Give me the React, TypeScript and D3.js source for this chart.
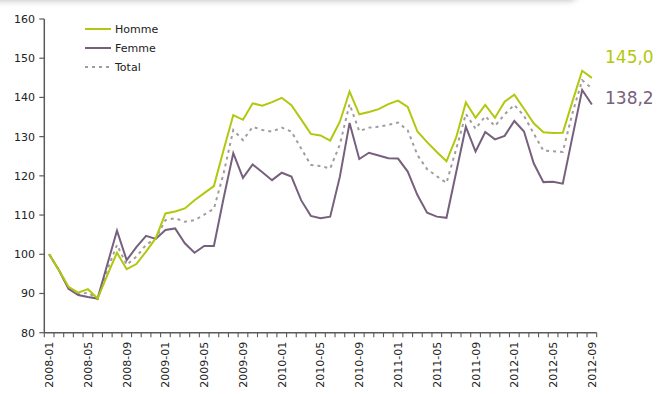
import React from "react";
import * as d3 from "d3";

// Monthly index (2008-01 = 100)
const months: string[] = [];
for (let y = 2008; y <= 2012; y++) {
  for (let m = 1; m <= 12; m++) {
    if (y === 2012 && m > 9) break;
    months.push(`${y}-${String(m).padStart(2, "0")}`);
  }
}

const homme = [
  100, 96.0, 91.7, 90.2, 91.1, 88.7, 94.7, 100.4, 96.2, 97.5, 100.7, 104.1,
  110.4, 110.9, 111.7, 113.8, 115.6, 117.4, 126.6, 135.5, 134.3, 138.5, 137.9, 138.8,
  139.9, 138.0, 134.4, 130.7, 130.3, 129.0, 133.8, 141.5, 135.7, 136.3, 137.0, 138.3,
  139.2, 137.6, 131.3, 128.6, 126.1, 123.7, 129.8, 138.7, 134.8, 138.1, 134.8, 138.9,
  140.7, 137.1, 133.4, 131.1, 130.9, 131.0, 139.0, 146.8, 145.0,
];

const femme = [
  100, 96.0, 91.2, 89.6, 89.1, 88.7, 97.4, 106.0, 98.5, 101.8, 104.7, 103.9,
  106.2, 106.6, 102.8, 100.4, 102.1, 102.1, 114.3, 125.8, 119.5, 122.9, 120.9, 118.9,
  120.8, 119.8, 113.8, 109.8, 109.2, 109.6, 119.8, 133.5, 124.3, 125.9, 125.2, 124.5,
  124.4, 121.1, 115.1, 110.6, 109.6, 109.3, 120.9, 132.5, 126.2, 131.2, 129.3, 130.2,
  134.0, 131.3, 123.2, 118.4, 118.5, 118.0, 130.0, 141.9, 138.2,
];

const total = [
  100, 96.0, 91.5, 89.8, 90.2, 88.6, 96.0, 102.4, 97.3, 99.4, 102.4, 104.1,
  108.7, 109.2, 108.3, 108.7, 110.1, 111.6, 120.6, 131.7, 129.1, 132.5, 131.7, 131.3,
  132.3, 131.3, 127.0, 122.8, 122.5, 121.9, 128.0, 138.3, 131.4, 132.3, 132.5, 133.0,
  133.6, 131.6, 125.3, 121.7, 119.9, 118.2, 126.8, 135.8, 132.0, 135.2, 132.7, 135.7,
  138.1, 135.3, 130.8, 126.4, 126.3, 126.1, 136.0, 144.4, 142.3,
];

const yTicks = [80, 90, 100, 110, 120, 130, 140, 150, 160];

const GREEN = "#b2c80e";
const PURPLE = "#76607e";
const GREY = "#a39b9d";
const FONT = "'DejaVu Sans', sans-serif";

const series = [
  { name: "Homme", values: homme, color: GREEN, dash: undefined as string | undefined, width: 2 },
  { name: "Femme", values: femme, color: PURPLE, dash: undefined as string | undefined, width: 2 },
  { name: "Total", values: total, color: GREY, dash: "3,4", width: 2 },
];

export default function App() {
  const W = 658;
  const H = 394;
  const left = 44.3;
  const right = 596.7;
  const top = 19;
  const bottom = 332.7;

  const x = d3.scaleBand<string>().domain(months).range([left, right]).padding(0);
  const cx = (m: string) => (x(m) ?? 0) + x.bandwidth() / 2;
  const y = d3.scaleLinear().domain([80, 160]).range([bottom, top]);

  const line = d3
    .line<number>()
    .x((_, i) => cx(months[i]))
    .y((d) => y(d));

  const boundaries = months.map((m) => x(m) ?? 0).concat([right]);
  const labelMonths = months.filter((_, i) => i % 4 === 0);

  const lastH = homme[homme.length - 1];
  const lastF = femme[femme.length - 1];
  const fmt = (v: number) => v.toFixed(1).replace(".", ",");

  return (
    <svg
      width={W}
      height={H}
      style={{ position: "absolute", left: 0, top: 0, display: "block", background: "#fff" }}
      fontFamily={FONT}
    >
      <defs>
        <filter id="shade" x="-20%" y="-200%" width="140%" height="500%">
          <feGaussianBlur stdDeviation="3.5" />
        </filter>
      </defs>
      {/* panel shadow along the top edge */}
      <rect x={-30} y={-24} width={610} height={24} rx={12} fill="#b4b4b4" filter="url(#shade)" />
      <rect x={-30} y={-40} width={610} height={39} rx={12} fill="#fff" />

      {/* y axis */}
      <line x1={left} x2={left} y1={top} y2={bottom} stroke="#5a5a5a" strokeWidth={1.5} />
      {yTicks.map((t) => (
        <g key={t}>
          <line x1={left - 5} x2={left} y1={y(t)} y2={y(t)} stroke="#5a5a5a" strokeWidth={1.2} />
          <text x={35} y={y(t)} dy="0.36em" textAnchor="end" fontSize={11} fill="#222">
            {t}
          </text>
        </g>
      ))}

      {/* x axis */}
      <line x1={left} x2={right} y1={bottom} y2={bottom} stroke="#5a5a5a" strokeWidth={1.5} />
      {boundaries.map((b, i) => (
        <line key={i} x1={b} x2={b} y1={bottom} y2={bottom + 4.5} stroke="#5a5a5a" strokeWidth={1.1} />
      ))}
      {labelMonths.map((m) => (
        <text
          key={m}
          transform={`translate(${cx(m)},${bottom + 9}) rotate(-90)`}
          textAnchor="end"
          dy="0.36em"
          fontSize={11}
          fill="#222"
        >
          {m}
        </text>
      ))}

      {/* series lines (Total beneath, then Femme, then Homme) */}
      {[series[2], series[1], series[0]].map((s) => (
        <path
          key={s.name}
          d={line(s.values) ?? ""}
          fill="none"
          stroke={s.color}
          strokeWidth={s.width}
          strokeDasharray={s.dash}
          strokeLinejoin="miter"
        />
      ))}

      {/* legend */}
      {series.map((s, i) => (
        <g key={s.name} transform={`translate(85,${29 + i * 19})`}>
          <line x1={0} x2={26} y1={0} y2={0} stroke={s.color} strokeWidth={2} strokeDasharray={s.dash} />
          <text x={30} y={0} dy="0.36em" fontSize={11} fill="#222">
            {s.name}
          </text>
        </g>
      ))}

      {/* end values */}
      <text x={605} y={y(lastH) - 15} fontSize={17} fill={GREEN}>
        {fmt(lastH)}
      </text>
      <text x={605} y={y(lastF)} fontSize={17} fill={PURPLE}>
        {fmt(lastF)}
      </text>
    </svg>
  );
}
